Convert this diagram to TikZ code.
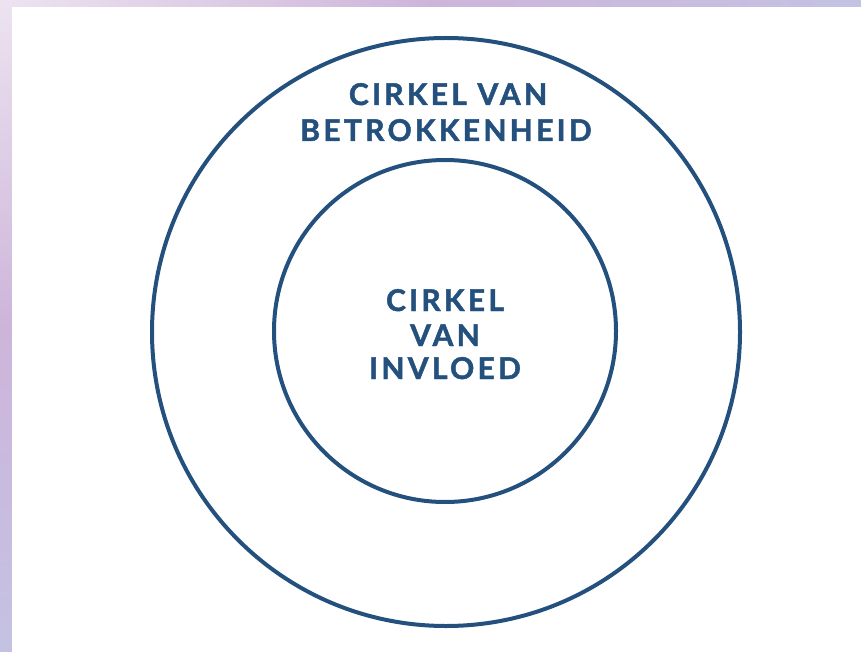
\documentclass[tikz,border=0pt]{standalone}
\usepackage{fontspec}
\newfontfamily\labfont{Lato}[LetterSpace=11, BoldFeatures={FakeBold=1.6}]
\definecolor{ringblue}{HTML}{24507E}
\definecolor{bgA}{HTML}{EDE3F0}
\definecolor{bgB}{HTML}{CDB5DA}
\definecolor{bgC}{HTML}{C4C2E2}
\tikzset{
  ring/.style={draw=ringblue, line width=4pt},
  lab/.style={text=ringblue, font=\labfont\bfseries\fontsize{30}{32}\selectfont, anchor=base, inner sep=0pt}
}
\begin{document}
\begin{tikzpicture}[x=1pt,y=-1pt]
\useasboundingbox (0,0) rectangle (861,652);
\shade[left color=bgA, right color=bgC, middle color=bgB] (0,0) rectangle (861,652);
\shade[top color=bgA, bottom color=bgC, middle color=bgB] (0,0) rectangle (12,652);
\fill[white] (12,7) rectangle (861,652);
\node[ring, circle, minimum size=588pt, inner sep=0pt] (outer) at (446,332) {};
\node[ring, circle, minimum size=342pt, inner sep=0pt] (inner) at (445,331) {};
\node[lab] (t1) at (448,105) {CIRKEL VAN};
\node[lab] (t2) at (446,141) {BETROKKENHEID};
\node[lab] (t3) at (445,311) {CIRKEL};
\node[lab] (t4) at (445,346) {VAN};
\node[lab] (t5) at (445,379) {INVLOED};
\end{tikzpicture}
\end{document}
